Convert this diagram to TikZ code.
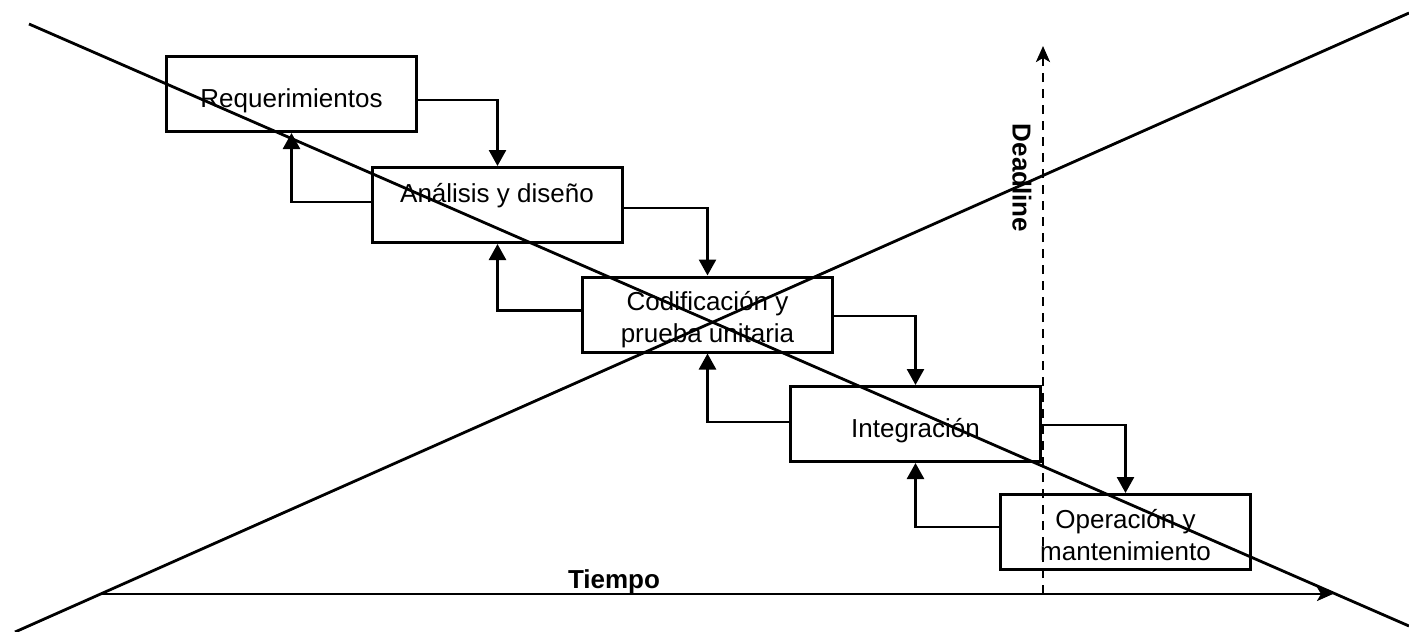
\documentclass[tikz,border=0pt]{standalone}
\usepackage{fontspec}
\setmainfont{Liberation Sans}
\usetikzlibrary{arrows.meta}
\begin{document}
\begin{tikzpicture}[x=1pt,y=-1pt,
  phase/.style={draw,line width=3pt,minimum width=250pt,minimum height=75pt,inner sep=0pt},
  lbl/.style={anchor=base,inner sep=0pt,font=\fontsize{26}{32}\selectfont},
  conn/.style={line width=2.6pt,-{Triangle[width=17pt,length=16pt]}},
  axis/.style={line width=2.6pt,-{Stealth[length=16pt,width=14pt,inset=4pt]}},
  diag/.style={line width=2.8pt}]
\useasboundingbox (0,0) rectangle (1409,632);
% phase boxes
\node[phase] (b1) at (291.5,94) {};
\node[phase] (b2) at (497.5,205) {};
\node[phase] (b3) at (707.5,314.5) {};
\node[phase] (b4) at (915.5,424) {};
\node[phase] (b5) at (1125.5,532) {};
% labels
\node[lbl] (t1) at (291.5,107) {Requerimientos};
\node[lbl] (t2) at (497,202) {Análisis y diseño};
\node[lbl] (t3a) at (707.5,310) {Codificación y};
\node[lbl] (t3b) at (707.5,342) {prueba unitaria};
\node[lbl] (t4) at (915.5,437) {Integración};
\node[lbl] (t5a) at (1125.5,528) {Operación y};
\node[lbl] (t5b) at (1125.5,560) {mantenimiento};
% forward connectors
\draw[conn] ([yshift=-6pt]b1.east) -| (b2.north);
\draw[conn] ([yshift=-3pt]b2.east) -| (b3.north);
\draw[conn] ([yshift=-1.5pt]b3.east) -| (b4.north);
\draw[conn] ([yshift=-1pt]b4.east) -| (b5.north);
% feedback connectors
\draw[conn] ([yshift=3pt]b2.west) -| (b1.south);
\draw[conn] ([yshift=4pt]b3.west) -| (b2.south);
\draw[conn] ([yshift=2pt]b4.west) -| (b3.south);
\draw[conn] ([yshift=5pt]b5.west) -| (b4.south);
% time axis
\coordinate (ax0) at (100,594);
\coordinate (ax1) at (1333,594);
\draw[axis] (ax0) -- (ax1);
\node[anchor=base,inner sep=0pt,font=\fontsize{26}{32}\selectfont\bfseries] (tiempo) at (614,588) {Tiempo};
% deadline
\coordinate (dl0) at (1043,594);
\coordinate (dl1) at (1043,46);
\draw[axis,dash pattern=on 9pt off 7pt] (dl0) -- (dl1);
\node[rotate=-90,inner sep=0pt,font=\fontsize{26}{32}\selectfont\bfseries] (deadline) at (1022,178) {Deadline};
% crossing diagonals
\coordinate (d1a) at (29,24);
\coordinate (d1b) at (1409,626);
\coordinate (d2a) at (15,632);
\coordinate (d2b) at (1409,13);
\draw[diag] (d1a) -- (d1b);
\draw[diag] (d2a) -- (d2b);
\end{tikzpicture}
\end{document}
